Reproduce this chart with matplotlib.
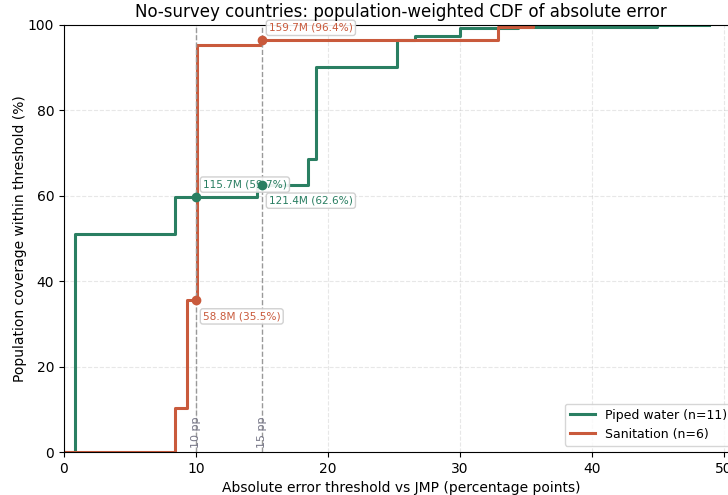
import matplotlib
matplotlib.use('Agg')
import matplotlib.pyplot as plt

# Step points (threshold in pp, cumulative population share in %)
piped_x = [0.0, 0.8, 8.4, 14.6, 18.5, 19.1, 25.2, 26.6, 30.0, 34.4, 44.9, 48.9]
piped_y = [0.0, 51.1, 59.7, 62.6, 68.6, 90.2, 96.4, 97.4, 99.2, 99.6, 99.9, 100.0]
san_x = [0.0, 8.4, 9.3, 10.05, 14.9, 32.9, 35.5]
san_y = [0.0, 10.2, 35.5, 95.3, 96.4, 99.6, 100.0]

thresholds = [10, 15]
piped_marks = [59.7, 62.6]
piped_labels = ["115.7M (59.7%)", "121.4M (62.6%)"]
san_marks = [35.5, 96.4]
san_labels = ["58.8M (35.5%)", "159.7M (96.4%)"]

green = '#2a7f62'
orange = '#c95a3c'

fig = plt.figure(figsize=(7.28, 4.95), dpi=100)
ax = fig.add_axes([64 / 728, 43 / 495, 674 / 728, 427 / 495])

ax.plot(piped_x, piped_y, drawstyle='steps-post', color=green, lw=2.2,
        label='Piped water (n=11)')
ax.plot(san_x, san_y, drawstyle='steps-post', color=orange, lw=2.2,
        label='Sanitation (n=6)')

for t in thresholds:
    ax.axvline(t, color='#999999', ls='--', lw=1)
    ax.text(t, 1, f'{t} pp', rotation=90, ha='center', va='bottom',
            fontsize=8, color='#777788')

box = dict(boxstyle='round,pad=0.25', fc='white', ec='#cccccc', alpha=0.9)
offsets_g = [(5, 9), (5, -11.5)]
offsets_s = [(5, -11.5), (5, 9)]
for t, v, lab, off in zip(thresholds, piped_marks, piped_labels, offsets_g):
    ax.plot(t, v, 'o', color=green, ms=6, zorder=5)
    ax.annotate(lab, (t, v), xytext=off, textcoords='offset points',
                fontsize=7.6, color=green, va='center', bbox=box)
for t, v, lab, off in zip(thresholds, san_marks, san_labels, offsets_s):
    ax.plot(t, v, 'o', color=orange, ms=6, zorder=5)
    ax.annotate(lab, (t, v), xytext=off, textcoords='offset points',
                fontsize=7.6, color=orange, va='center', bbox=box)

ax.set_xlim(0, 51.06)
ax.set_ylim(0, 100)
ax.grid(True, ls='--', alpha=0.3)
ax.set_xlabel('Absolute error threshold vs JMP (percentage points)', fontsize=10)
ax.set_ylabel('Population coverage within threshold (%)', fontsize=10, labelpad=1)
ax.set_title('No-survey countries: population-weighted CDF of absolute error', fontsize=12)
ax.legend(loc='lower right', fontsize=9)

fig.savefig('out.png', dpi=100)
